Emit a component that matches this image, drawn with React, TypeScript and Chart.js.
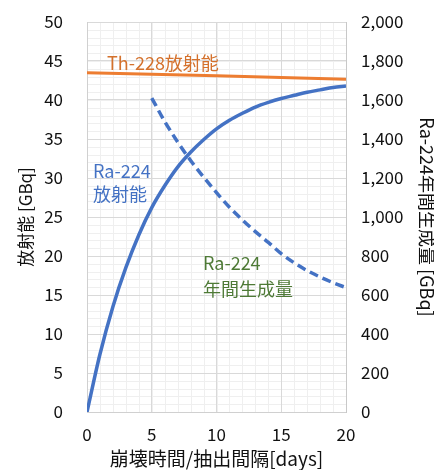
import React, { useEffect, useRef } from "react";
import { Chart, registerables } from "chart.js";

Chart.register(...registerables);

// ---- data ----
const days = [0, 1, 2, 3, 4, 5, 6, 7, 8, 9, 10, 11, 12, 13, 14, 15, 16, 17, 18, 19, 20];
const raActivity = [0, 7.4, 13.5, 18.5, 22.7, 26.2, 29.0, 31.4, 33.3, 34.9, 36.3, 37.4, 38.3, 39.1, 39.7, 40.2, 40.6, 41.0, 41.3, 41.6, 41.8];
const thDays = [0, 5, 10, 15, 20];
const thActivity = [43.5, 43.3, 43.1, 42.9, 42.65];
const prodDays = [5, 6, 7, 8, 9, 10, 11, 12, 13, 14, 15, 16, 17, 18, 19, 20];
const raProduction = [1610, 1490, 1385, 1290, 1205, 1125, 1050, 985, 925, 870, 812, 765, 725, 692, 663, 638];

const xTitle = "崩壊時間/抽出間隔[days]";
const yTitle = "放射能 [GBq]";
const y2Title = "Ra-224年間生成量 [GBq]";

// annotation labels (data coordinates on x / left y axis)
const labelTexts = ["Th-228放射能", "Ra-224", "放射能", "Ra-224", "年間生成量"];
const labelX = [1.54, 0.46, 0.46, 8.95, 8.95];
const labelY = [44.7, 30.9, 27.9, 19.1, 15.7];
const labelColors = ["#D4712C", "#4472C4", "#4472C4", "#4E7A36", "#4E7A36"];

const FONT = "'Noto Sans CJK JP', 'Noto Sans', sans-serif";

const minorGrid = {
  id: "minorGrid",
  beforeDraw(chart: any) {
    const { ctx, chartArea, scales } = chart;
    const xs = scales.x;
    const ys = scales.y;
    ctx.save();
    ctx.strokeStyle = "#efefef";
    ctx.lineWidth = 1;
    for (let d = xs.min; d <= xs.max; d += 1) {
      const px = Math.round(xs.getPixelForValue(d)) + 0.5;
      ctx.beginPath();
      ctx.moveTo(px, chartArea.top);
      ctx.lineTo(px, chartArea.bottom);
      ctx.stroke();
    }
    for (let v = ys.min; v <= ys.max; v += 1) {
      const py = Math.round(ys.getPixelForValue(v)) + 0.5;
      ctx.beginPath();
      ctx.moveTo(chartArea.left, py);
      ctx.lineTo(chartArea.right, py);
      ctx.stroke();
    }
    ctx.restore();
  },
};

const labelsPlugin = {
  id: "labelsPlugin",
  afterDatasetsDraw(chart: any) {
    const { ctx, scales } = chart;
    ctx.save();
    ctx.font = `18px ${FONT}`;
    ctx.textAlign = "left";
    ctx.textBaseline = "middle";
    labelTexts.forEach((t, i) => {
      ctx.fillStyle = labelColors[i];
      ctx.fillText(t, scales.x.getPixelForValue(labelX[i]), scales.y.getPixelForValue(labelY[i]));
    });
    ctx.restore();
  },
};

export default function App() {
  const ref = useRef<HTMLCanvasElement>(null);
  useEffect(() => {
    if (!ref.current) return;
    const tickFont = { family: FONT, size: 17 };
    const chart = new Chart(ref.current, {
      type: "line",
      data: {
        datasets: [
          {
            label: "Th-228",
            data: thDays.map((d, i) => ({ x: d, y: thActivity[i] })),
            borderColor: "#ED7D31",
            borderWidth: 3,
            pointRadius: 0,
            yAxisID: "y",
            tension: 0,
          },
          {
            label: "Ra-224",
            data: days.map((d, i) => ({ x: d, y: raActivity[i] })),
            borderColor: "#4472C4",
            borderWidth: 3.5,
            pointRadius: 0,
            yAxisID: "y",
            cubicInterpolationMode: "monotone",
          },
          {
            label: "Ra-224 prod",
            data: prodDays.map((d, i) => ({ x: d, y: raProduction[i] })),
            borderColor: "#4472C4",
            borderWidth: 3.5,
            borderDash: [9, 5],
            pointRadius: 0,
            yAxisID: "y2",
            cubicInterpolationMode: "monotone",
          },
        ],
      },
      options: {
        responsive: false,
        animation: false,
        events: [],
        layout: { padding: { top: 22, left: 0, right: 0, bottom: 0 } },
        plugins: { legend: { display: false }, tooltip: { enabled: false } },
        scales: {
          x: {
            type: "linear",
            min: 0,
            max: 20,
            afterFit: (s: any) => { s.height = 58; },
            ticks: { stepSize: 5, font: tickFont, color: "#111", padding: 12, maxRotation: 0 },
            grid: { color: "#d9d9d9", drawTicks: false, lineWidth: 1 },
            border: { color: "#d0d0d0", width: 1 },
            title: { display: true, text: xTitle, font: { family: FONT, size: 19 }, color: "#111", padding: { top: 0, bottom: 0 } },
          },
          y: {
            type: "linear",
            position: "left",
            min: 0,
            max: 50,
            afterFit: (s: any) => { s.width = 87; s.paddingTop = 0; s.paddingBottom = 0; },
            ticks: { stepSize: 5, font: tickFont, color: "#111", padding: 24 },
            grid: { color: "#d9d9d9", drawTicks: false },
            border: { color: "#d0d0d0", width: 1 },
            title: { display: true, text: yTitle, font: { family: FONT, size: 17 }, color: "#111", padding: { top: 15, bottom: 0 } },
          },
          y2: {
            type: "linear",
            position: "right",
            min: 0,
            max: 2000,
            afterFit: (s: any) => { s.width = 88; s.paddingTop = 0; s.paddingBottom = 0; },
            ticks: {
              stepSize: 200,
              font: tickFont,
              color: "#111",
              padding: 15,
              callback: (v: any) => Number(v).toLocaleString("en-US"),
            },
            grid: { drawOnChartArea: false, drawTicks: false },
            border: { color: "#c8c8c8", width: 1 },
            title: { display: true, text: y2Title, font: { family: FONT, size: 18 }, color: "#111", padding: { top: -4, bottom: 0 } },
          },
        },
      },
      plugins: [minorGrid, labelsPlugin],
    });
    return () => chart.destroy();
  }, []);
  return (
    <div style={{ position: "absolute", left: 0, top: 0, width: 434, height: 470, background: "#fff" }}>
      <canvas ref={ref} width={434} height={470} style={{ display: "block" }} />
    </div>
  );
}
